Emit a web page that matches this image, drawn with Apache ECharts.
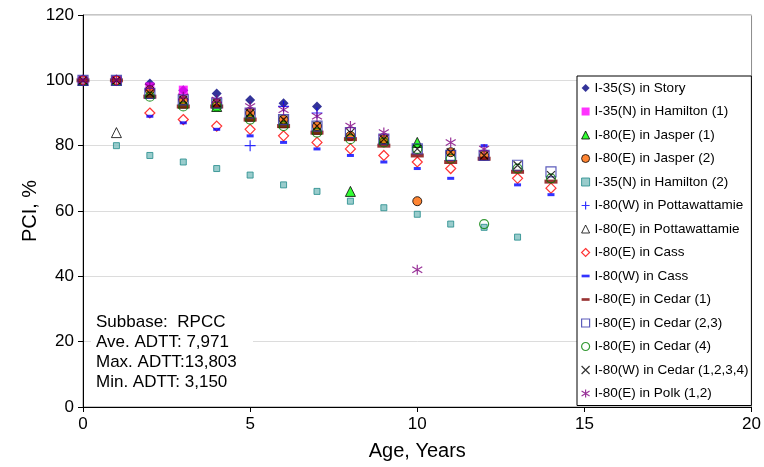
<!DOCTYPE html>
<html>
<head>
<meta charset="utf-8">
<script src="https://cdn.jsdelivr.net/npm/echarts@6/dist/echarts.min.js"></script>
<style>
  html, body { margin: 0; padding: 0; background: #fff; }
  #main { width: 764px; height: 467px; }
</style>
</head>
<body>
<div id="main"></div>
<script>
// [age, PCI] points
const story = [[0,100],[1,100],[2,99],[3,97],[4,96],[5,94],[6,93],[7,92]];
const hamilton1 = [[0,100],[1,100],[2,98],[3,97]];
const jasper1 = [[0,100],[1,100],[2,96],[3,93],[4,92],[5,89],[6,87],[7,85],[8,66],[9,82],[10,81]];
const jasper2 = [[0,100],[1,100],[2,97],[3,94],[4,93],[5,90],[6,88],[7,86],[8,83],[9,82],[10,63],[11,78],[12,77]];
const hamilton2 = [[0,100],[1,80],[2,77],[3,75],[4,73],[5,71],[6,68],[7,66],[8,63],[9,61],[10,59],[11,56],[12,55],[13,52]];
const pottW = [[0,100],[1,100],[5,80],[6,92],[7,90]];
const pottE = [[0,100],[1,84]];
const cassE = [[0,100],[1,100],[2,90],[3,88],[4,86],[5,85],[6,83],[7,81],[8,79],[9,77],[10,75],[11,73],[13,70],[14,67]];
const cassW = [[2,89],[3,87],[4,85],[5,83],[6,81],[7,79],[8,77],[9,75],[10,73],[11,70],[12,80],[13,68],[14,65]];
const cedar1 = [[0,100],[1,100],[2,95],[3,92],[4,92],[5,88],[6,86],[7,84],[8,82],[9,80],[10,77],[11,75],[12,76],[13,72],[14,69]];
const cedar23 = [[0,100],[1,100],[2,96],[3,94],[4,93],[5,90],[6,88],[7,86],[8,84],[9,82],[10,79],[11,77],[12,77],[13,74],[14,72]];
const cedar4 = [[2,95],[3,92],[4,92],[5,88],[6,86],[7,84],[8,82],[9,81],[10,79],[11,76],[12,56],[13,73],[14,70]];
const cedarW = [[0,100],[1,100],[2,96],[3,94],[4,93],[5,90],[6,88],[7,86],[8,84],[9,82],[10,79],[11,78],[12,77],[13,74],[14,71]];
const polk = [[0,100],[1,100],[2,98],[3,95],[4,94],[5,92],[6,91],[7,89],[8,86],[9,84],[10,42],[11,81],[12,79]];

const noteLines = ['Subbase:  RPCC', 'Ave. ADTT: 7,971', 'Max. ADTT:13,803', 'Min. ADTT: 3,150'];

const FONT = "'Liberation Sans', Arial, sans-serif";

// marker shapes
const PLUS = 'path://M5,0L5,10M0,5L10,5';
const CROSS = 'path://M0,0L10,10M10,0L0,10';
const STAR = 'path://M5,0L5,10M0,2L10,8M10,2L0,8';
const DASH = 'path://M0,0L6,0L6,2L0,2Z';

function pts(name, data, symbol, size, itemStyle) {
    return {
        type: 'scatter',
        name: name,
        data: data,
        symbol: symbol,
        symbolSize: size,
        itemStyle: itemStyle,
        emphasis: { disabled: true }
    };
}

const chart = echarts.init(document.getElementById('main'));
chart.setOption({
    animation: false,
    grid: {
        left: 83, right: 11, top: 15, bottom: 60,
        show: true,
        borderColor: '#8c8c8c',
        borderWidth: 1
    },
    xAxis: {
        type: 'value',
        min: 0, max: 20, interval: 5,
        name: 'Age, Years',
        nameLocation: 'middle',
        nameGap: 34,
        nameMoveOverlap: false,
        nameTextStyle: { fontFamily: FONT, fontSize: 20, color: '#000' },
        axisLine: { lineStyle: { color: '#000', width: 1 } },
        axisTick: { inside: false, length: 5, lineStyle: { color: '#000' } },
        axisLabel: { fontFamily: FONT, fontSize: 17, color: '#000', margin: 9 },
        splitLine: { show: false }
    },
    yAxis: {
        type: 'value',
        min: 0, max: 120, interval: 20,
        name: 'PCI, %',
        nameLocation: 'middle',
        nameGap: 43,
        nameMoveOverlap: false,
        nameTextStyle: { fontFamily: FONT, fontSize: 20, color: '#000' },
        axisLine: { show: true, lineStyle: { color: '#000', width: 1 } },
        axisTick: { show: true, inside: false, length: 5, lineStyle: { color: '#000' } },
        axisLabel: { fontFamily: FONT, fontSize: 17, color: '#000', margin: 9 },
        splitLine: { lineStyle: { color: '#dcdcdc', width: 1 } }
    },
    legend: {
        orient: 'vertical',
        left: 577,
        top: 76,
        padding: [4, 3, 4, 4],
        itemGap: 7.5,
        itemWidth: 8,
        itemHeight: 8,
        backgroundColor: '#fff',
        borderColor: '#000',
        borderWidth: 1,
        itemStyle: { borderWidth: 'inherit' },
        textStyle: { fontFamily: FONT, fontSize: 13.5, color: '#000', lineHeight: 16 }
    },
    graphic: [
        {
            type: 'rect',
            z: 3,
            shape: { x: 91, y: 310, width: 162, height: 84 },
            style: { fill: '#fff' }
        },
        {
            type: 'text',
            z: 4,
            left: 96,
            top: 312,
            style: {
                text: noteLines.join('\n'),
                font: '17px ' + FONT,
                lineHeight: 20,
                fill: '#000'
            }
        }
    ],
    series: [
        pts('I-35(S) in Story', story, 'diamond', 10, { color: '#000080' }),
        pts('I-35(N) in Hamilton (1)', hamilton1, 'rect', 9, { color: '#ff00ff' }),
        pts('I-80(E) in Jasper (1)', jasper1, 'triangle', 10, { color: '#00ff00', borderColor: '#000', borderWidth: 1 }),
        pts('I-80(E) in Jasper (2)', jasper2, 'circle', 9, { color: '#ff6600', borderColor: '#000', borderWidth: 1 }),
        pts('I-35(N) in Hamilton (2)', hamilton2, 'rect', 6, { color: '#7fbfbf', borderColor: '#208a8a', borderWidth: 1 }),
        pts('I-80(W) in Pottawattamie', pottW, PLUS, 11, { color: 'transparent', borderColor: '#0000ff', borderWidth: 1.2 }),
        pts('I-80(E) in Pottawattamie', pottE, 'triangle', 10, { color: 'transparent', borderColor: '#000', borderWidth: 1 }),
        pts('I-80(E) in Cass', cassE, 'diamond', 10, { color: '#fff', borderColor: '#ff0000', borderWidth: 1.2 }),
        pts('I-80(W) in Cass', cassW, DASH, [7, 3], { color: '#0000ff' }),
        pts('I-80(E) in Cedar (1)', cedar1, DASH, [13, 4], { color: '#800000' }),
        pts('I-80(E) in Cedar (2,3)', cedar23, 'rect', 10, { color: 'transparent', borderColor: '#3333aa', borderWidth: 1.2 }),
        pts('I-80(E) in Cedar (4)', cedar4, 'circle', 9, { color: 'transparent', borderColor: '#008000', borderWidth: 1.2 }),
        pts('I-80(W) in Cedar (1,2,3,4)', cedarW, CROSS, 8, { color: 'transparent', borderColor: '#000', borderWidth: 1.2 }),
        pts('I-80(E) in Polk (1,2)', polk, STAR, 10, { color: 'transparent', borderColor: '#800080', borderWidth: 1.2 })
    ]
});
</script>
</body>
</html>
